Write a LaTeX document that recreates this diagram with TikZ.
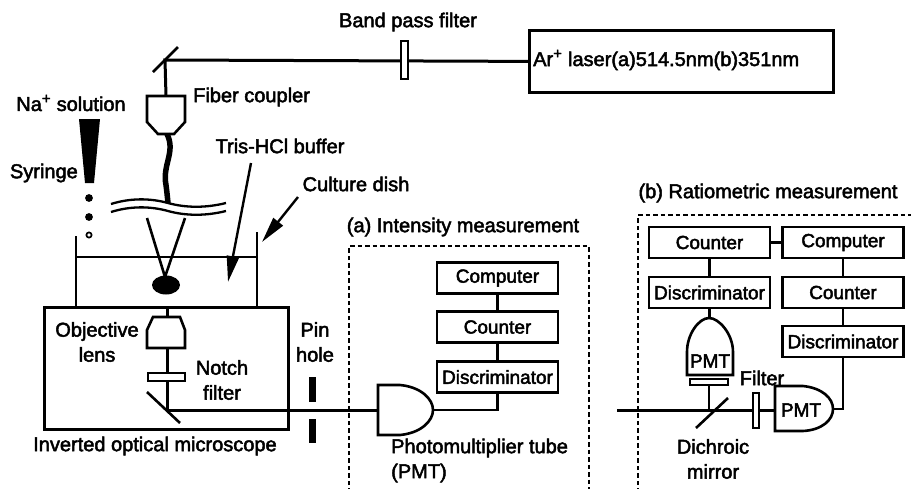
\documentclass[tikz,border=0pt]{standalone}
\usepackage{fontspec}
\setmainfont{Liberation Sans}[FakeBold=2.4]
\usetikzlibrary{arrows.meta,calc}
\begin{document}
\begin{tikzpicture}[x=1pt,y=-1pt,
  lbl/.style={font=\fontsize{20}{25}\selectfont, inner sep=0pt, align=center},
  blk/.style={draw, line width=2.6pt, font=\fontsize{19}{22}\selectfont,
              minimum width=121pt, minimum height=31pt, inner sep=0pt},
  ray/.style={line width=3pt},
  wire/.style={line width=2.6pt},
  optic/.style={line width=2.6pt, fill=white},
  frame/.style={line width=2.6pt, dash pattern=on 4.5pt off 3pt},
  ptr/.style={line width=2.4pt, -{Triangle[length=26pt,width=12pt]}}
]
\useasboundingbox (0,0) rectangle (911,488);

% ---------------- laser and input optics ----------------
\node[draw, line width=2.8pt, minimum width=304pt, minimum height=62pt,
      anchor=north west, inner sep=0pt] (laser) at (528,29) {};
\node[lbl, anchor=west] (lasertxt) at (533,60) {Ar\textsuperscript{\fontsize{15}{15}\selectfont+} laser(a)514.5nm(b)351nm};
\coordinate (m1) at (165,60);
\coordinate (cpl) at (166,96);
\draw[ray] (laser.west) -- (m1) -- (cpl);
\draw[wire] (153,72) -- (178,47);
\node[draw, fill=white, line width=2.3pt, minimum width=7pt, minimum height=38pt,
      inner sep=0pt] (bpf) at (404.5,60) {};
\node[lbl] (bpflbl) at (408,22) {Band pass filter};

% fiber coupler and fiber
\draw[optic] (147,96) -- (185,96) -- (185,122) -- (174,134) -- (158,134) -- (147,122) -- cycle;
\node[lbl, anchor=west] (cpllbl) at (193,97) {Fiber coupler};
\draw[line width=5.5pt] (167,134) .. controls (176,152) and (162,165) .. (166,185)
      .. controls (167,193) .. (168,203);
\draw[line width=2.3pt] (111,204) .. controls (130,198) and (150,198) .. (168,203)
      .. controls (186,208) and (206,208) .. (226,203);
\draw[line width=2.3pt] (111,212) .. controls (130,206) and (150,206) .. (168,211)
      .. controls (186,216) and (206,216) .. (226,211);

% syringe
\node[lbl] (nalbl) at (71,103) {Na\textsuperscript{\fontsize{15}{15}\selectfont+} solution};
\fill (79,119) -- (100,119) -- (94,183) -- (85,183) -- cycle;
\node[lbl, anchor=east] (syrlbl) at (78,173) {Syringe};
\fill (89,198) circle (3.9);
\fill (89,217) circle (3.9);
\draw[line width=1.7pt] (89,235) circle (2.6);

% culture dish
\draw[wire] (76,236) -- (76,306);
\draw[wire] (257,232) -- (257,306);
\draw[wire] (76,257) -- (257,257);
\draw[wire] (147,218) -- (165,277) -- (185,218);
\fill (166,285) ellipse (14 and 9.5);
\node[lbl] (trislbl) at (280,146) {Tris-HCl buffer};
\coordinate (trist) at (251,163);
\coordinate (trish) at (228,282);
\draw[ptr] (trist) -- (trish);
\node[lbl] (dishlbl) at (356,184) {Culture dish};
\coordinate (disht) at (298,197);
\coordinate (dishh) at (262,242);
\draw[ptr] (disht) -- (dishh);

% inverted microscope
\node[draw, line width=2.8pt, anchor=north west, minimum width=244pt,
      minimum height=122pt, inner sep=0pt] (scope) at (43,306) {};
\coordinate (m2) at (167,410);
\coordinate (pmtain) at (378,410);
\draw[ray] (167,306) -- (m2) -- (pmtain);
\draw[optic] (153,317) -- (180,317) -- (185,330) -- (185,348) -- (147,348) -- (147,330) -- cycle;
\draw[line width=2.3pt, fill=white] (148,373) rectangle (185,381);
\draw[wire] (147,392) -- (180,423);
\node[lbl] (objlbl) at (97,342) {Objective\\lens};
\node[lbl] (notchlbl) at (222,380) {Notch\\filter};
\node[lbl] (scopelbl) at (155,446) {Inverted optical microscope};

% pin hole
\fill (309,377) rectangle (316,402);
\fill (309,419) rectangle (316,443);
\node[lbl] (pinlbl) at (315,342) {Pin\\hole};

% ---------------- (a) intensity measurement ----------------
\draw[frame] (349,500) -- (349,246) -- (589,246) -- (589,500);
\node[lbl] (alb) at (463,227) {(a) Intensity measurement};
\node[blk] (comp) at (497.5,278) {Computer};
\node[blk] (cnt) at (497.5,327) {Counter};
\node[blk] (disc) at (497.5,377) {Discriminator};
\draw[wire] (comp) -- (cnt);
\draw[wire] (cnt) -- (disc);
\draw[optic] (378,385) -- (400,385) .. controls (421,387) and (433,399) .. (433,410)
      .. controls (433,421) and (421,433) .. (400,435) -- (378,435) -- cycle;
\coordinate (pmtaout) at (433,410);
\draw[wire] (pmtaout) -| (disc.south);
\node[lbl, anchor=west] (pmtlbl) at (391,448) {Photomultiplier tube};
\node[lbl, anchor=west] (pmtlbl2) at (391,473) {(PMT)};

% ---------------- (b) ratiometric measurement ----------------
\draw[frame] (638,500) -- (638,215) -- (920,215) -- (920,500);
\node[lbl] (blb) at (768,193) {(b) Ratiometric measurement};
\node[blk] (cntl) at (709.5,242.5) {Counter};
\node[blk] (compr) at (843,242.5) {Computer};
\node[blk] (discl) at (709.5,292.5) {Discriminator};
\node[blk] (cntr) at (843,292.5) {Counter};
\node[blk] (discr) at (843,341.5) {Discriminator};
\draw[wire] (cntl) -- (compr);
\draw[wire] (cntl) -- (discl);
\draw[wire] (compr) -- (cntr);
\draw[wire] (cntr) -- (discr);

\coordinate (bin) at (617,410);
\coordinate (pmtbin) at (775,410);
\coordinate (dm) at (709,410);
\draw[ray] (bin) -- (pmtbin);
\draw[wire] (dm) -- (709,385);
\draw[wire] (696,428) -- (728,398);
% vertical PMT
\draw[optic] (687,375) -- (687,352) .. controls (687,334) and (699,318) .. (709,318)
      .. controls (719,318) and (733,334) .. (733,352) -- (733,375) -- cycle;
\node[font=\fontsize{19}{22}\selectfont, inner sep=0pt] (pmtv) at (710,361) {PMT};
\draw[wire] (discl.south) -- (709.5,318);
\draw[line width=2.3pt, fill=white] (690,379) rectangle (728,385);
% horizontal PMT and filter
\draw[line width=2.3pt, fill=white] (753,393) rectangle (759,428);
\node[lbl] (filtlbl) at (762,378) {Filter};
\draw[optic] (775,386) -- (803,386) .. controls (822,388) and (833,398) .. (833,409)
      .. controls (833,420) and (822,430) .. (803,431) -- (775,431) -- cycle;
\node[font=\fontsize{19}{22}\selectfont, inner sep=0pt] (pmth) at (801,410) {PMT};
\coordinate (pmtbout) at (833,409);
\draw[wire] (pmtbout) -| (discr.south);
\node[lbl] (dmlbl) at (713,459) {Dichroic\\mirror};
\end{tikzpicture}
\end{document}
